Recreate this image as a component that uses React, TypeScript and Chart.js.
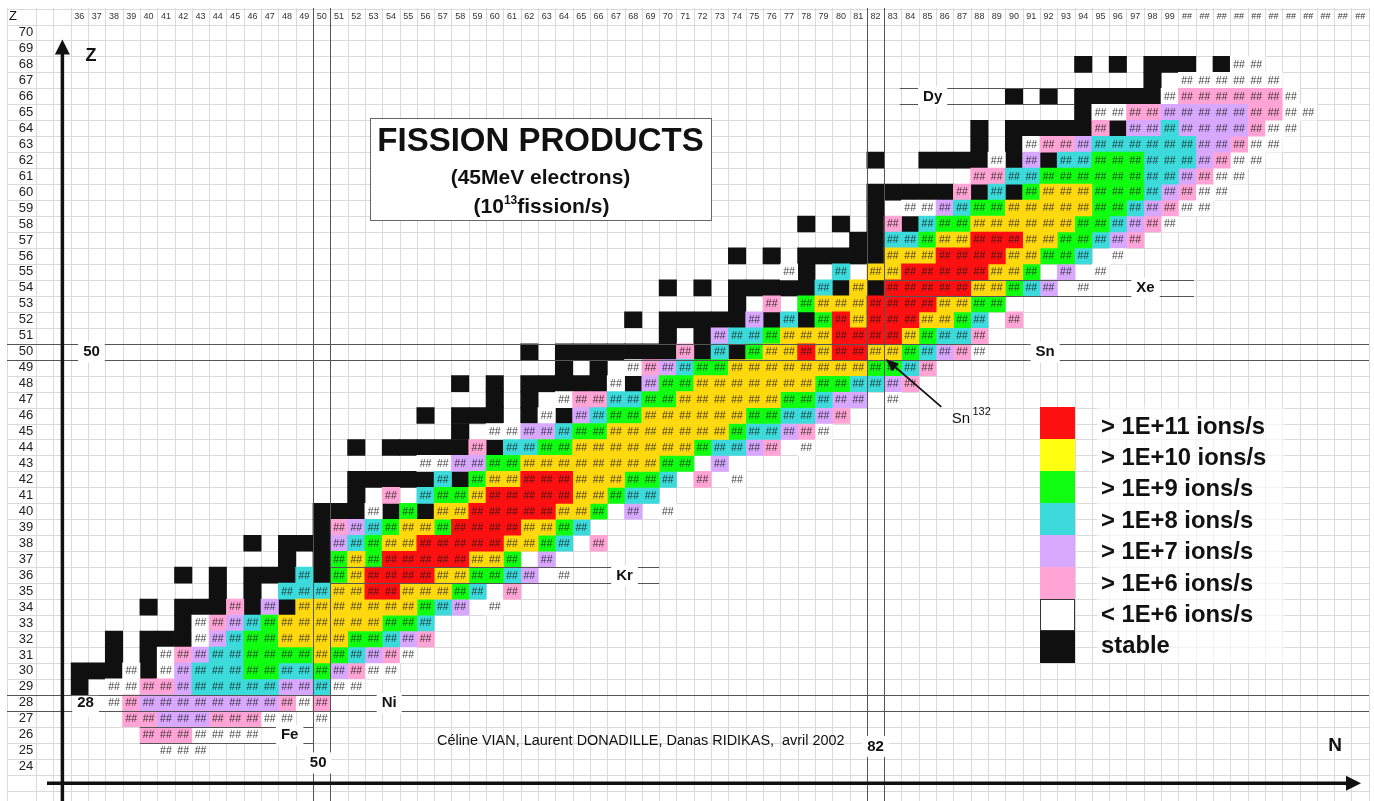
import React, { useEffect, useRef } from "react";
import { Chart, registerables } from "chart.js";

Chart.register(...registerables);

// ---- data ----
const FONT = '"Liberation Sans", Arial, sans-serif';
const classCodes = ["R", "Y", "G", "C", "P", "K", "W", "B"];
const classLabels = ["> 1E+11 ions/s", "> 1E+10 ions/s", "> 1E+9 ions/s", "> 1E+8 ions/s", "> 1E+7 ions/s", "> 1E+6 ions/s", "< 1E+6 ions/s", "stable"];
const cellColors = ["#FF1010", "#FFD80E", "#10FF10", "#3CDADA", "#D8A8FF", "#FFA4D4", "#FFFFFF", "#101010"];
const swatchColors = ["#FF1010", "#FFFF10", "#10FF10", "#3CDADA", "#D8A8FF", "#FFA4D4", "#FFFFFF", "#101010"];

const rowZ = [25, 26, 27, 28, 29, 30, 31, 32, 33, 34, 35, 36, 37, 38, 39, 40, 41, 42, 43, 44, 45, 46, 47, 48, 49, 50, 51, 52, 53, 54, 55, 56, 57, 58, 59, 60, 61, 62, 63, 64, 65, 66, 67, 68];
const rowStartN = [41, 40, 39, 38, 36, 36, 38, 38, 42, 40, 44, 42, 48, 46, 50, 50, 52, 52, 56, 52, 58, 56, 60, 58, 64, 62, 70, 68, 74, 70, 77, 74, 81, 78, 82, 82, 88, 82, 88, 88, 94, 90, 98, 94];
const rowCells = [
  "WWW",
  "KKKWWWW",
  "KKPPPKKKWW.W",
  "WKPPPPPPPPKWK",
  "B.WWKKPCCCCCPPCWW",
  "BBBWBWPCCCGGCCGPKWW",
  "B.BWKPCCGGGGYGCPKW",
  "B.BBBWPCGGYYYYGGCPK",
  "BWKPCGYYYYYYGGC",
  "B.BBBKBPBYYYYYYYGCP.W",
  "B.B.CCCYYRRYYYGC.K",
  "B.B.BBBCBGYRRRRYYGGCP.W",
  "B.BGYGRRRRRYYG.P",
  "B.BBBPCGYYRRRRRYYGC.K",
  "BKPCGYYGRRRRYYGC",
  "BBBWBGBYYRRRRRYYG.P.W",
  "B.K.CGGYRRRRRYYGCC",
  "BBBBBCBGYYRRRYYYGGC.K.W",
  "WWPPGGYYYYYYYYGG.P",
  "B.BBBBBKBCCGGYYYYYYYGCCPK.W",
  "B.WWPPCGGYYYYYYYGCCPKW",
  "B.BBB.BWBPCGGYYYYYYGGCCPK",
  "B.B.WKKCCGGYYYYYYGGCPP.W",
  "B.B.BBBBBWBPGGYYYYYYYGGCCPK",
  "B.B.WKPCGGYYYYYYYYGGCK",
  "B.BBBBBBBKBCBGYYRYRRYYGCPKW",
  "B.BPCCGYYYRRRRYGCCK",
  "B.BBBBBPBCBGRYRRRYYGC.K",
  "B.K.GYYYRRRRYYGG",
  "B.B.BBBBBCBYBRRRRRYYGCP.W",
  "WB.C.YYRRRRRYYG.P.W",
  "B.B.BBBBBYYYRRRRYYGGC.W",
  "BBCCGYYRRRYYGGCPK",
  "B.B.BKBCGGYYYYYYGGCPKW",
  "B.WWPCGGYYYYYGGCPKWW",
  "BBBBBKBCBGYYYGGGCPKWW",
  "KKCCGGGGGGCCPKWW",
  "B..BBBBWBPBCCGGGCCCPKWW",
  "B.BWKKPCCCCCCPPKWW",
  "B.BBBBBKBPPCPPPPKWW",
  "BWWKKPPPPPKKWW",
  "B.B.BBBBBWKKKKKKW",
  "B.WWWWWW",
  "B.B.BBB.BWW",
];

const tickN = Array.from({ length: 75 }, (_, i) => 36 + i);
const tickZ = Array.from({ length: 47 }, (_, i) => 24 + i);
const magicZ = [28, 50];
const magicN = [50, 82];
const isotopeLines = [
  { z: 26, from: 39.5, to: 49.5 },
  { z: 36, from: 50.5, to: 69.5 },
  { z: 54, from: 82.5, to: 100.4 },
  { z: 66, from: 83.4, to: 93.5 },
];
const nameLabels = [
  { t: "28", n: 36.36, z: 28, boxDy: 3 },
  { t: "50", n: 36.7, z: 50, boxDy: 0 },
  { t: "50", n: 49.8, z: 24.27, boxDy: 0 },
  { t: "82", n: 82, z: 25.3, boxDy: 0 },
  { t: "Ni", n: 53.9, z: 28, boxDy: 0 },
  { t: "Fe", n: 48.15, z: 26, boxDy: 0 },
  { t: "Kr", n: 67.5, z: 36, boxDy: 0 },
  { t: "Xe", n: 97.6, z: 54, boxDy: 0 },
  { t: "Sn", n: 91.8, z: 50, boxDy: 0 },
  { t: "Dy", n: 85.3, z: 66, boxDy: 0 },
];

function buildCells(code: string) {
  const out: { x: number; y: [number, number] }[] = [];
  rowCells.forEach((row, r) => {
    [...row].forEach((c, i) => {
      if (c === code) out.push({ x: rowStartN[r] + i, y: [rowZ[r] - 0.5, rowZ[r] + 0.5] });
    });
  });
  return out;
}

function arrowHead(ctx: CanvasRenderingContext2D, tx: number, ty: number, fromX: number, fromY: number, len: number, half: number) {
  const a = Math.atan2(ty - fromY, tx - fromX);
  ctx.beginPath();
  ctx.moveTo(tx, ty);
  ctx.lineTo(tx - len * Math.cos(a) - half * Math.sin(a), ty - len * Math.sin(a) + half * Math.cos(a));
  ctx.lineTo(tx - len * Math.cos(a) + half * Math.sin(a), ty - len * Math.sin(a) - half * Math.cos(a));
  ctx.closePath();
  ctx.fill();
}

const crisp = (v: number) => Math.round(v) + 0.5;
const GRID_RIGHT = 1369;

const gridPlugin = {
  id: "cellGrid",
  beforeDraw(chart: any) {
    const { ctx, width, height, scales } = chart;
    const sx = scales.x, sy = scales.y;
    ctx.save();
    ctx.fillStyle = "#fff";
    ctx.fillRect(0, 0, width, height);
    ctx.strokeStyle = "#dadada";
    ctx.lineWidth = 1;
    ctx.beginPath();
    const top = 8, left = 7;
    ctx.moveTo(crisp(left), top);
    ctx.lineTo(crisp(left), height);
    for (let n = 33.5; n < 110.6; n++) {
      const x = crisp(sx.getPixelForValue(n));
      ctx.moveTo(x, top);
      ctx.lineTo(x, height);
    }
    for (let z = 21.5; z < 72; z++) {
      const y = crisp(sy.getPixelForValue(z));
      ctx.moveTo(left, y);
      ctx.lineTo(GRID_RIGHT, y);
    }
    ctx.stroke();
    ctx.restore();
  },
};

const overlayPlugin = {
  id: "overlay",
  afterDatasetsDraw(chart: any) {
    const { ctx, height, scales } = chart;
    const sx = scales.x, sy = scales.y;
    const px = (n: number) => sx.getPixelForValue(n);
    const py = (z: number) => sy.getPixelForValue(z);
    ctx.save();

    // "##" value marks in every cell that is not stable
    ctx.textAlign = "center";
    ctx.textBaseline = "middle";
    ctx.font = `10.5px ${FONT}`;
    ctx.fillStyle = "rgba(20,20,20,0.85)";
    rowCells.forEach((row, r) => {
      [...row].forEach((c, i) => {
        if (c !== "." && c !== "B") ctx.fillText("##", px(rowStartN[r] + i), py(rowZ[r]) + 0.5);
      });
    });

    // magic number lines and isotope lines
    ctx.strokeStyle = "#555";
    ctx.lineWidth = 1;
    ctx.beginPath();
    magicZ.forEach((z) => {
      [z - 0.5, z + 0.5].forEach((v) => {
        ctx.moveTo(7, crisp(py(v)));
        ctx.lineTo(GRID_RIGHT, crisp(py(v)));
      });
    });
    magicN.forEach((n) => {
      [n - 0.5, n + 0.5].forEach((v) => {
        ctx.moveTo(crisp(px(v)), 8);
        ctx.lineTo(crisp(px(v)), height);
      });
    });
    isotopeLines.forEach((l) => {
      [l.z - 0.5, l.z + 0.5].forEach((v) => {
        ctx.moveTo(px(l.from), crisp(py(v)));
        ctx.lineTo(px(l.to), crisp(py(v)));
      });
    });
    ctx.stroke();

    // element and magic-number labels on white boxes
    ctx.font = `bold 15px ${FONT}`;
    nameLabels.forEach((l) => {
      const x = px(l.n), y = py(l.z);
      const w = ctx.measureText(l.t).width + 10;
      ctx.fillStyle = "#fff";
      ctx.fillRect(x - w / 2, y - 10 + l.boxDy, w, 21);
      ctx.fillStyle = "#111";
      ctx.fillText(l.t, x, y + 0.5);
    });

    // axes arrows
    ctx.fillStyle = "#111";
    ctx.strokeStyle = "#111";
    const ax = px(35.02), ay = py(22.96);
    ctx.lineWidth = 3.5;
    ctx.beginPath();
    ctx.moveTo(ax, height);
    ctx.lineTo(ax, py(69.0));
    ctx.moveTo(px(34.13), ay);
    ctx.lineTo(px(109.5), ay);
    ctx.stroke();
    arrowHead(ctx, ax, py(69.56), ax, height, 15, 7.5);
    arrowHead(ctx, px(110.05), ay, px(34), ay, 15, 7.5);
    ctx.font = `bold 18px ${FONT}`;
    ctx.fillText("Z", px(36.67), py(68.55));
    ctx.font = `bold 19px ${FONT}`;
    ctx.fillText("N", px(108.55), py(25.3));
    ctx.font = `13px ${FONT}`;
    ctx.fillText("Z", px(32.17), py(71));

    // Sn 132 pointer
    const tipX = px(82.58), tipY = py(49.55);
    const startX = px(85.8), startY = py(46.54);
    ctx.lineWidth = 1.8;
    ctx.beginPath();
    ctx.moveTo(startX, startY);
    ctx.lineTo(tipX + 6, tipY + 5);
    ctx.stroke();
    arrowHead(ctx, tipX, tipY, startX, startY, 13, 5);
    ctx.textAlign = "left";
    ctx.textBaseline = "alphabetic";
    ctx.font = `15px ${FONT}`;
    ctx.fillText("Sn", px(86.4), py(45.53));
    ctx.font = `11px ${FONT}`;
    ctx.fillText("132", px(87.6), py(46.05));

    // credit line
    ctx.textBaseline = "middle";
    ctx.font = `14.45px ${FONT}`;
    ctx.fillStyle = "#111";
    ctx.fillText("C\u00e9line VIAN, Laurent DONADILLE, Danas RIDIKAS,  avril 2002", 437, 741);

    // title box
    ctx.fillStyle = "#fff";
    ctx.fillRect(370, 118, 341, 102);
    ctx.strokeStyle = "#666";
    ctx.lineWidth = 1;
    ctx.strokeRect(370.5, 118.5, 341, 102);
    ctx.fillStyle = "#111";
    ctx.textAlign = "center";
    ctx.textBaseline = "alphabetic";
    ctx.font = `bold 33px ${FONT}`;
    ctx.fillText("FISSION PRODUCTS", 540.5, 151);
    ctx.font = `bold 21px ${FONT}`;
    ctx.fillText("(45MeV electrons)", 540.5, 184);
    ctx.textAlign = "left";
    const a = "(10", b = "13", c = "fission/s)";
    const wa = ctx.measureText(a).width, wc = ctx.measureText(c).width;
    ctx.font = `bold 12px ${FONT}`;
    const wb = ctx.measureText(b).width;
    let tx = 541.5 - (wa + wb + wc) / 2;
    ctx.font = `bold 21px ${FONT}`;
    ctx.fillText(a, tx, 213);
    tx += wa;
    ctx.font = `bold 12px ${FONT}`;
    ctx.fillText(b, tx, 204);
    tx += wb;
    ctx.font = `bold 21px ${FONT}`;
    ctx.fillText(c, tx, 213);

    // legend
    ctx.fillStyle = "rgba(255,255,255,0.65)";
    ctx.fillRect(1097, 407, 187, 256);
    ctx.textBaseline = "middle";
    ctx.font = `bold 23.8px ${FONT}`;
    classLabels.forEach((label, i) => {
      const y = 407 + i * 32;
      ctx.fillStyle = swatchColors[i];
      ctx.fillRect(1040, y, 35, 32);
      if (swatchColors[i] === "#FFFFFF") {
        ctx.strokeStyle = "#333";
        ctx.strokeRect(1040.5, y + 0.5, 34, 31);
      }
      ctx.fillStyle = "#111";
      ctx.fillText(label, 1101, y + 20 - i * 0.6);
    });
    ctx.restore();
  },
};

const noMargins = (s: any) => {
  s.paddingTop = 0;
  s.paddingBottom = 0;
  s.paddingLeft = 0;
  s.paddingRight = 0;
};

export default function App() {
  const ref = useRef<HTMLCanvasElement | null>(null);
  useEffect(() => {
    document.body.style.margin = "0";
    const chart = new Chart(ref.current as HTMLCanvasElement, {
      type: "bar",
      data: {
        datasets: classCodes.map((code, i) => ({
          label: classLabels[i],
          data: buildCells(code) as any,
          backgroundColor: cellColors[i],
          borderWidth: 0,
          barThickness: 17.4,
          grouped: false,
        })),
      },
      plugins: [gridPlugin, overlayPlugin],
      options: {
        animation: false,
        responsive: false,
        events: [],
        layout: { padding: 0 },
        plugins: { legend: { display: false }, tooltip: { enabled: false } },
        scales: {
          x: {
            type: "linear",
            position: "top",
            offset: false,
            min: 35.5,
            max: 110.8,
            afterBuildTicks: (s: any) => {
              s.ticks = tickN.map((value) => ({ value }));
            },
            afterFit: (s: any) => {
              s.height = 24.5;
              noMargins(s);
            },
            grid: { display: false, drawTicks: false },
            border: { display: false },
            ticks: {
              autoSkip: false,
              maxRotation: 0,
              minRotation: 0,
              padding: 3,
              color: "#333",
              font: { family: "Liberation Sans", size: 9 },
              callback: (v: any) => (Number(v) >= 100 ? "##" : String(v)),
            },
          },
          y: {
            type: "linear",
            position: "left",
            min: 21.85,
            max: 70.5,
            afterBuildTicks: (s: any) => {
              s.ticks = tickZ.map((value) => ({ value }));
            },
            afterFit: (s: any) => {
              s.width = 70.7;
              noMargins(s);
            },
            grid: { display: false, drawTicks: false },
            border: { display: false },
            ticks: {
              autoSkip: false,
              padding: 37.5,
              color: "#222",
              font: { family: "Liberation Sans", size: 13 },
              callback: (v: any) => String(v),
            },
          },
        },
      } as any,
    });
    return () => chart.destroy();
  }, []);
  return <canvas ref={ref} width={1374} height={801} style={{ display: "block" }} />;
}
